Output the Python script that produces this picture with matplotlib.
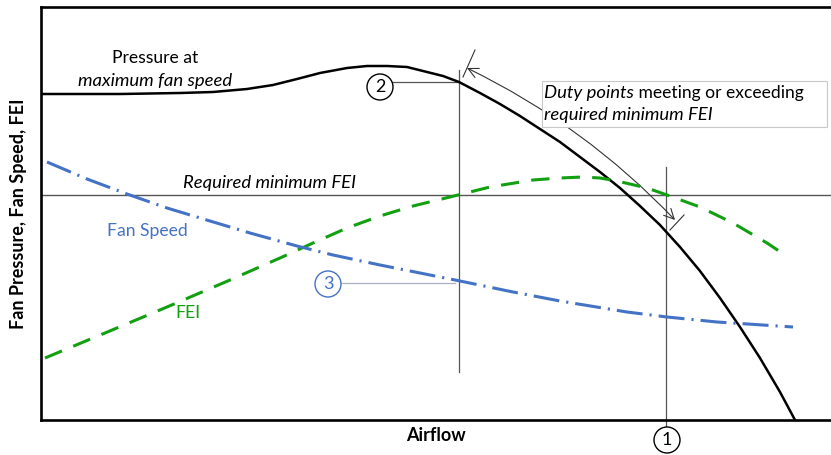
"""Fan pressure / speed / FEI versus airflow, conceptual duty-point chart."""

import matplotlib
matplotlib.use("Agg")
import matplotlib.pyplot as plt
from matplotlib.patches import Circle, FancyArrowPatch, Rectangle

plt.rcParams["font.family"] = ["Lato", "DejaVu Sans"]

# curves (arbitrary units, no scale shown)
pressure_x = [0, 79, 139, 172, 206, 232, 256, 279, 306, 326, 346, 366, 386,
              402, 418, 439, 459, 479, 499, 519, 539, 559, 579, 599, 619,
              639, 659, 679, 699, 719, 739, 754]
pressure_y = [326, 326, 327, 328, 331, 335, 341, 347, 352, 354, 354, 353, 348,
              344, 338, 327, 316, 304, 291, 278, 263, 248, 232, 214, 195,
              173, 149, 122, 93, 62, 28, 0]

fei_x = [4, 64, 126, 189, 239, 272, 306, 339, 372, 409, 449, 492, 519, 542,
         559, 576, 606, 626, 659, 692, 726, 747]
fei_y = [62, 87, 113, 140, 162, 177, 192, 204, 214, 223, 233, 240, 242, 243,
         242, 239, 232, 225, 213, 197, 177, 163]

speed_x = [6, 46, 86, 126, 169, 209, 256, 292, 339, 389, 419, 472, 519, 586,
           626, 676, 752]
speed_y = [258, 241, 226, 212, 199, 187, 174, 165, 155, 145, 139, 128, 119,
           108, 103, 98, 93]

fei_required = 225
duty_left = 418    # point 2: FEI reaches the required minimum
duty_right = 625   # point 1: FEI drops back to the required minimum

BLUE = "#4472C4"
GREEN = "#12A012"
GRID = "#555555"
FS = 12.6      # regular text
FS_IT = 13.3   # italic text

fig = plt.figure(figsize=(8.31, 4.55), dpi=100)
ax = fig.add_axes([41 / 831, 35 / 455, 790 / 831, 413 / 455])
ax.set_xlim(0, 790)
ax.set_ylim(0, 413)
ax.set_xticks([])
ax.set_yticks([])
ax.spines["right"].set_visible(False)
for side in ("left", "bottom", "top"):
    ax.spines[side].set_linewidth(1.9)
    ax.spines[side].set_color("black")

ax.set_xlabel("Airflow", fontsize=13, fontweight="bold", labelpad=5)
ax.set_ylabel("Fan Pressure, Fan Speed, FEI", fontsize=13,
              fontweight="bold", labelpad=10)

# reference lines
ax.axhline(fei_required, color=GRID, lw=1.0, zorder=1)
ax.plot([duty_left, duty_left], [48, 350], color=GRID, lw=0.9, zorder=1)
ax.plot([duty_right, duty_right], [-7, 253], color=GRID, lw=0.9, zorder=1,
        clip_on=False)

# curves
ax.plot(pressure_x, pressure_y, color="black", lw=1.8, zorder=3,
        solid_joinstyle="round")
ax.plot(fei_x, fei_y, color=GREEN, lw=2.2, dashes=(6.0, 4.0), zorder=3)
ax.plot(speed_x, speed_y, color=BLUE, lw=2.2,
        dashes=(8.5, 2.3, 0.7, 2.3), zorder=3)

# curve labels
ax.text(114, 362, "Pressure at", fontsize=FS, ha="center", va="center")
ax.text(114, 339, "maximum fan speed", fontsize=FS_IT, style="italic",
        ha="center", va="center")
ax.text(142, 237, "Required minimum FEI", fontsize=FS_IT, style="italic",
        ha="left", va="center")
ax.text(106, 189, "Fan Speed", fontsize=FS, color=BLUE, ha="center",
        va="center")
ax.text(147, 107, "FEI", fontsize=FS, color=GREEN, ha="center", va="center")


def marker(x, y, label, color):
    ax.add_patch(Circle((x, y), 13, facecolor="white", edgecolor=color,
                        lw=1.0, zorder=5, clip_on=False))
    ax.text(x, y, label, fontsize=13, color=color, ha="center",
            va="center", zorder=6)


# numbered callouts
ax.plot([351, duty_left], [338, 338], color=GRID, lw=0.9, zorder=2)
marker(339, 333, "2", "black")
ax.plot([301, 414], [137, 137], color="#A8B0C2", lw=0.9, zorder=2)
marker(287, 136, "3", BLUE)
marker(626, -20, "1", "black")

# dimension arrow spanning the compliant duty points
ax.add_patch(FancyArrowPatch((426, 352), (634, 200), arrowstyle="<->",
                             connectionstyle="arc3,rad=-0.09",
                             mutation_scale=18, color="#333333", lw=0.8,
                             shrinkA=0, shrinkB=0, zorder=2))
ax.plot([422, 434], [343, 370], color="#333333", lw=0.8, zorder=2)
ax.plot([629, 643], [190, 205], color="#333333", lw=0.8, zorder=2)

ax.add_patch(Rectangle((501, 293), 285, 46, facecolor="white",
                       edgecolor="#C8C8C8", lw=0.8, zorder=4))
t1 = ax.text(503, 327, "Duty points", fontsize=FS_IT, style="italic",
             ha="left", va="center", zorder=5)
ax.annotate(" meeting or exceeding", xy=(1, 0.5), xycoords=t1,
            fontsize=FS, ha="left", va="center", zorder=5)
ax.text(503, 305, "required minimum FEI", fontsize=FS_IT, style="italic",
        ha="left", va="center", zorder=5)

fig.savefig("out.png", dpi=100)
